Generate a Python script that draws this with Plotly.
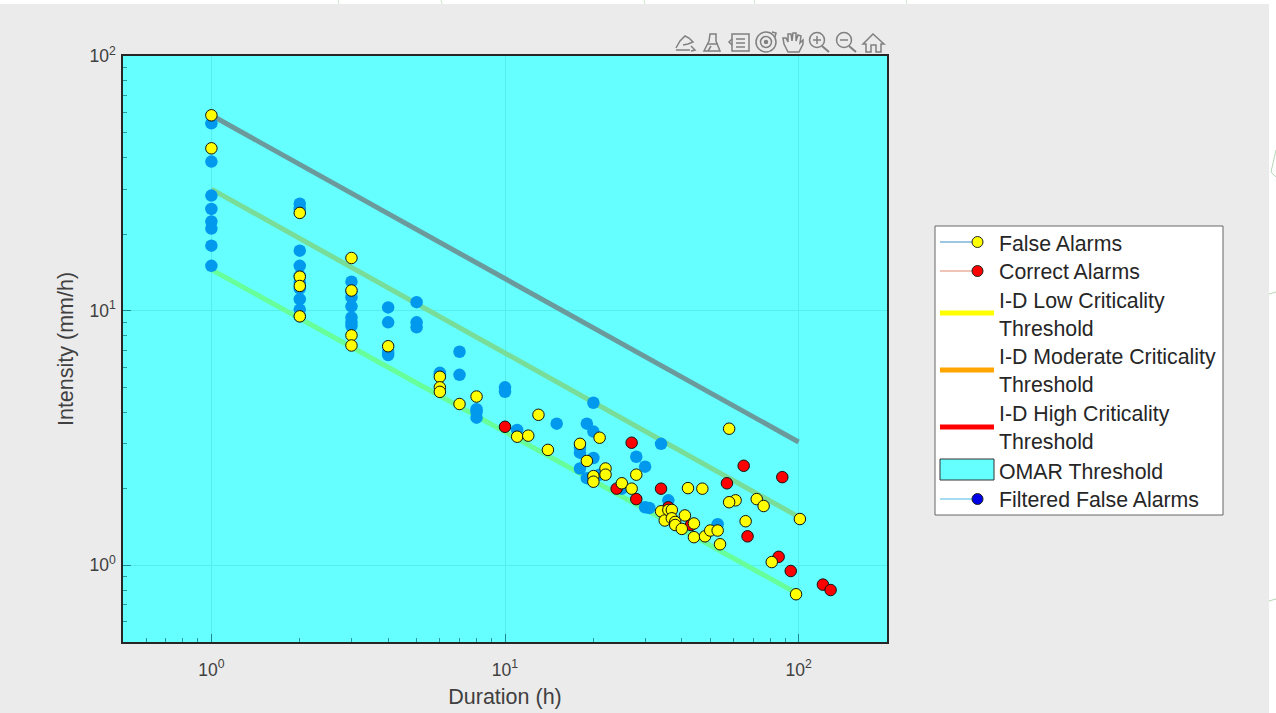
import plotly.graph_objects as go

false_x = [1,1,2,2,2,2,3,3,3,3,4,6,6,6,7,8,11,12,13,14,18,19,20,20,21,22,22,25,27,28,34,35,36,37,37,38,38,40,41,44,44,48,50,53,54,42,47,58,61,58,72,76,66,101,81,98]
false_y = [58.5,43.4,24.2,13.6,12.5,9.5,16.1,12,8,7.3,7.25,5.5,5,4.8,4.3,4.6,3.2,3.23,3.9,2.84,3,2.57,2.24,2.13,3.17,2.4,2.27,2.1,2,2.27,1.63,1.5,1.65,1.65,1.53,1.48,1.44,1.39,1.57,1.46,1.29,1.3,1.37,1.37,1.21,2.01,2,3.44,1.8,1.77,1.82,1.71,1.49,1.52,1.03,0.77]
correct_x = [10,24,27,28,34,36,43,57,65,67,85.5,88,94,121,128.5]
correct_y = [3.5,2,3.03,1.82,2,1.69,1.44,2.1,2.46,1.3,1.08,2.22,0.95,0.84,0.8]
filtered_x = [1,1,1,1,1,1,1,1,2,2,2,2,2,2,2,2,2,2,3,3,3,3,3,3,3,4,4,4,4,5,5,5,6,6,7,7,8,8,8,10,10,11,15,18,18,18,19,19,20,20,20,21,25,28,30,30,31,34,36,53]
filtered_y = [54.4,38.5,28.3,25.1,22.4,21,18,15,26.3,25.1,17.2,15,13.7,12.9,12.2,11.1,10.1,9.5,13,11.9,11.3,10.4,9.4,9,8.7,10.3,9,6.9,6.7,10.8,9,8.6,5.7,5.6,6.9,5.6,4.1,4,3.8,5,4.8,3.4,3.6,2.9,2.77,2.4,3.6,2.2,4.35,3.35,2.64,2.27,2,2.67,2.44,1.69,1.68,3,1.8,1.45]
line_x = [1, 100]
low_y = [14.5, 0.77]
moderate_y = [30, 1.55]
high_y = [58.5, 3.05]
tick_vals = [1, 10, 100]
tick_text = ["10<sup>0</sup>", "10<sup>1</sup>", "10<sup>2</sup>"]
legend_labels = ["False Alarms", "Correct Alarms", "I-D Low Criticality<br>Threshold",
                 "I-D Moderate Criticality<br>Threshold", "I-D High Criticality<br>Threshold",
                 "OMAR Threshold", "Filtered False Alarms"]

W, H = 1276, 713
L, R, T, B = 123, 887, 56, 642
FONT = "Liberation Sans, Arial, sans-serif"
CYAN = "#66ffff"
ICON = "#808080"
fx = lambda px: (px - L) / (R - L)
fy = lambda py: (B - py) / (B - T)

shapes, notes = [], []
def rect(x0, y0, x1, y1, fill, line=None, lw=1):
    shapes.append(dict(type="rect", xref="paper", yref="paper", x0=fx(x0), x1=fx(x1), y0=fy(y0), y1=fy(y1),
                       fillcolor=fill, line=dict(color=line or fill, width=lw if line else 0), layer="above"))
def poly(pts, color=ICON, lw=1.5, closed=False, fill=None):
    d = "M " + " L ".join(f"{fx(x):.5f},{fy(y):.5f}" for x, y in pts) + (" Z" if closed else "")
    shapes.append(dict(type="path", xref="paper", yref="paper", path=d, line=dict(color=color, width=lw),
                       fillcolor=fill or "rgba(0,0,0,0)", layer="above"))
def circ(cx, cy, r, fill=None, color=ICON, lw=1.5):
    shapes.append(dict(type="circle", xref="paper", yref="paper", x0=fx(cx-r), x1=fx(cx+r), y0=fy(cy+r), y1=fy(cy-r),
                       fillcolor=fill or "rgba(0,0,0,0)", line=dict(color=color, width=lw), layer="above"))

# screenshot edges: white strips with small stray marks
rect(0, 0, W, 4, "#ffffff")
rect(1269, 0, W, H, "#ffffff")
for px in (338, 441, 644, 754, 906):
    poly([(px, 0), (px + 1, 4)], "#cfe3cf", 1)
for py in (293, 600):
    poly([(1269, py + 1), (1276, py - 1)], "#b5d5b5", 1)
poly([(1276, 150), (1271, 172), (1276, 177)], "#b5d5b5", 1)

# toolbar icons
poly([(676, 48), (680, 41), (685, 36), (689, 38), (693, 42), (688, 44), (683, 45)])
poly([(676, 50), (690, 50)]); poly([(691, 46), (695, 50), (691, 51)])
poly([(710, 34), (716, 34), (716, 41), (720, 51), (704, 51), (709, 41)], closed=True)
poly([(708, 44), (718, 44)]); poly([(711, 46), (708, 51)])
rect(732, 34, 749, 51, "rgba(0,0,0,0)", ICON, 1.5)
poly([(732, 39), (729, 42), (732, 45)])
for py in (39, 43, 47):
    poly([(736, py), (745, py)])
circ(766, 42, 10); circ(766, 42, 5.5); circ(766, 42, 1.5, ICON)
poly([(772, 32), (776, 33), (775, 37)])
poly([(788, 52), (784, 44), (783, 38), (786, 38), (788, 42), (788, 34), (791, 34), (792, 41), (793, 33),
      (796, 33), (796, 41), (798, 35), (801, 36), (800, 43), (803, 40), (803, 44), (799, 52)], closed=True)
for cx, plus in ((817, True), (844, False)):
    circ(cx, 40, 7.5)
    poly([(cx + 5, 46), (cx + 12, 52)], lw=2)
    poly([(cx - 4, 40), (cx + 4, 40)])
    if plus:
        poly([(cx, 36), (cx, 44)])
poly([(863, 44), (873, 34), (884, 44), (881, 44), (881, 52), (876, 52), (876, 45), (871, 45), (871, 52),
      (866, 52), (866, 44)], closed=True)

# hand-placed legend box
rect(935, 226, 1223, 515, "#ffffff", "#666666", 1)
legend_y = [244, 272, 315, 371, 428, 472, 500]
for label, y in zip(legend_labels, legend_y):
    notes.append(dict(text=label, xref="paper", yref="paper", x=fx(996.5), y=fy(y), xanchor="left", yanchor="middle",
                      align="left", showarrow=False, font=dict(family=FONT, size=21.3, color="#262626")))
def key_marker(y, fill, line):
    poly([(940, y), (973, y)], line, 1.2)
    circ(977.5, y, 5.5, fill, "#222222", 1)
key_marker(242, "#ffff00", "#3d8fc4")
key_marker(271, "#ff0000", "#e08a70")
key_marker(499, "#0000e6", "#4db8e8")
for y, col in ((313, "#ffff00"), (370, "#ffa500"), (427, "#ff0000")):
    poly([(940, y), (994, y)], col, 5)
rect(940, 459, 994, 480, CYAN, "#333333", 1)

fig = go.Figure()
for ys, col in ((low_y, "#66ff99"), (moderate_y, "#77dd99"), (high_y, "#6b9a9c")):
    fig.add_trace(go.Scatter(x=line_x, y=ys, mode="lines", line=dict(color=col, width=5), hoverinfo="skip"))
mk = lambda c: dict(size=11.5, color=c, line=dict(color="#111111", width=1))
fig.add_trace(go.Scatter(x=filtered_x, y=filtered_y, mode="markers", name="Filtered False Alarms",
                         marker=dict(size=12.5, color="#0099ee")))
fig.add_trace(go.Scatter(x=correct_x, y=correct_y, mode="markers", name="Correct Alarms", marker=mk("#ff0000")))
fig.add_trace(go.Scatter(x=false_x, y=false_y, mode="markers", name="False Alarms", marker=mk("#ffff00")))

axis = dict(type="log", tickmode="array", tickvals=tick_vals, ticktext=tick_text, automargin=False,
            showline=True, linecolor="#262626", linewidth=1.5,
            mirror=True, ticks="inside", ticklen=8, tickcolor="#1a8a8a", tickwidth=1,
            showgrid=True, gridcolor="#55eeee", gridwidth=1, zeroline=False,
            tickfont=dict(family=FONT, size=17.5, color="#404040"),
            minor=dict(ticks="inside", ticklen=4, tickcolor="#2a9a9a", showgrid=False, dtick="D1"))
fig.update_layout(
    width=W, height=H, showlegend=False,
    margin=dict(l=L, r=W - R, t=T, b=H - B),
    paper_bgcolor="#ebebeb", plot_bgcolor=CYAN,
    font=dict(family=FONT, color="#262626"),
    xaxis=dict(axis, range=[-0.30103, 2.30103], ticklabelstandoff=11,
               title=dict(text="Duration (h)", font=dict(family=FONT, size=21.5, color="#404040"), standoff=10)),
    yaxis=dict(axis, range=[-0.30103, 2], ticklabelstandoff=2,
               title=dict(text="Intensity (mm/h)", font=dict(family=FONT, size=21.5, color="#404040"), standoff=10)),
    shapes=shapes, annotations=notes, hovermode=False,
)
fig.write_html("out.html", config=dict(displayModeBar=False),
               post_script="document.body.style.margin='0';")
